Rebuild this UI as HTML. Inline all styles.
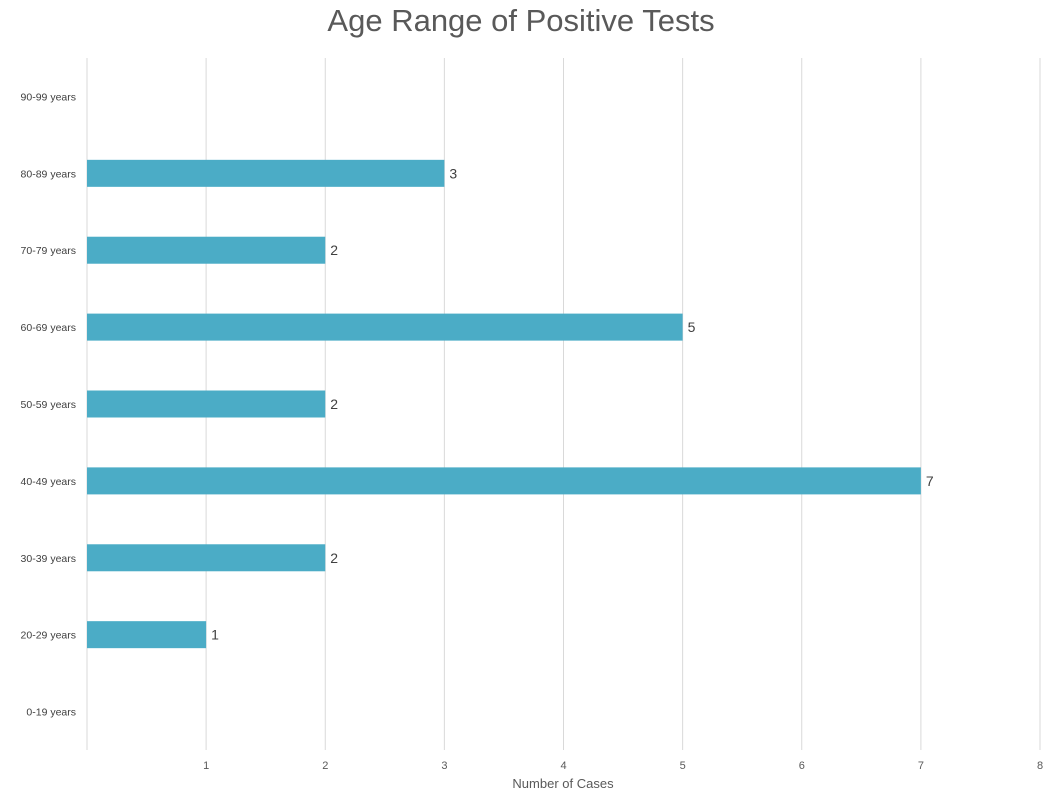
<!DOCTYPE html>
<html><head><meta charset="utf-8"><style>
body{margin:0;background:#fff;}
svg{display:block;font-family:"Liberation Sans",sans-serif;}
</style></head><body>
<svg id="chart" width="1053" height="794">
<text x="521" y="31" text-anchor="middle" font-size="31" fill="#595959">Age Range of Positive Tests</text>
<g id="grid"></g><g id="bars"></g><g id="ylabels"></g><g id="xlabels"></g>
<text x="563" y="788" text-anchor="middle" font-size="13" fill="#595959">Number of Cases</text>
</svg>
<script>
const categories=["0-19 years","20-29 years","30-39 years","40-49 years","50-59 years","60-69 years","70-79 years","80-89 years","90-99 years"];
const values=[0,1,2,7,2,5,2,3,0];
const xTicks=[1,2,3,4,5,6,7,8];
const NS="http://www.w3.org/2000/svg";
const x0=87,x1=1040,xMax=8,yTop=58,yBot=750;
const band=(yBot-yTop)/categories.length;
const xs=v=>x0+(x1-x0)*v/xMax;
const yc=i=>yBot-band*(i+0.5);
function mk(tag,attrs,parent){const e=document.createElementNS(NS,tag);for(const k in attrs)e.setAttribute(k,attrs[k]);document.getElementById(parent).appendChild(e);return e;}
const axis=mk('line',{x1:x0,x2:x0,y1:yTop,y2:yBot,stroke:'#d9d9d9','stroke-width':1},'grid');


xTicks.forEach(t=>{
 const l=mk('line',{x1:xs(t),x2:xs(t),y1:yTop,y2:yBot,stroke:'#d9d9d9','stroke-width':1},'grid');
 
 
 const tx=mk('text',{x:xs(t),y:769,'text-anchor':'middle','font-size':11,fill:'#595959'},'xlabels');
 tx.textContent=t;
 
 
});
categories.forEach((c,i)=>{
 const t=mk('text',{x:76,y:yc(i)+4,'text-anchor':'end','font-size':10.5,fill:'#404040'},'ylabels');
 t.textContent=c;
 
 
 if(values[i]>0){
  const r=mk('rect',{x:x0,y:yc(i)-13.5,width:xs(values[i])-x0,height:27,fill:'#4BACC6'},'bars');
  
  
  const v=mk('text',{x:xs(values[i])+5,y:yc(i)+5,'font-size':14,fill:'#404040'},'bars');
  v.textContent=values[i];
  
  
 }
});
</script>
</body></html>
